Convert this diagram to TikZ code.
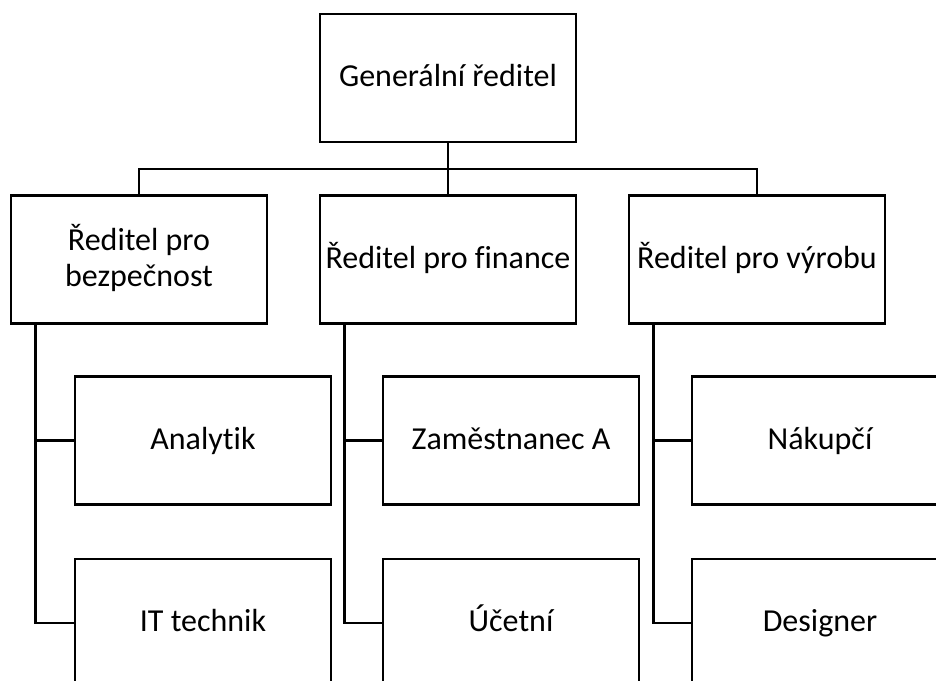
\documentclass[tikz,border=0pt]{standalone}
\usepackage{fontspec}
\setmainfont{Carlito}[Ligatures=NoCommon]
\begin{document}
\begin{tikzpicture}[x=0.75pt, y=-0.75pt,
  box/.style={draw=black, line width=2pt, fill=white, minimum width=192pt,
    minimum height=96pt, inner sep=2pt, align=center,
    text height=16pt, text depth=3.2pt,
    font=\fontsize{24}{27}\selectfont},
  twoline/.style={text height=44.4pt, text depth=3.2pt},
  link/.style={draw=black, line width=2pt}]
  \useasboundingbox (0,0) rectangle (936,681);
  \clip (0,0) rectangle (936,681);

  % top level
  \node[box] (gen) at (448,78) {Generální ředitel};

  % directors
  \node[box, twoline] (bez) at (139,259.5) {Ředitel pro\\bezpečnost};
  \node[box] (fin) at (448,259.5) {Ředitel pro finance};
  \node[box] (vyr) at (757,259.5) {Ředitel pro výrobu};

  % staff
  \node[box] (ana) at (203,440.5) {Analytik};
  \node[box] (itt) at (203,623) {IT technik};
  \node[box] (zam) at (511,440.5) {Zaměstnanec A};
  \node[box] (uce) at (511,623) {Účetní};
  \node[box] (nak) at (820,440.5) {Nákupčí};
  \node[box] (des) at (820,623) {Designer};

  % bus below the top box
  \coordinate (bus) at (448,169);
  \draw[link] (gen.south) -- (fin.north);
  \draw[link] (bus) -| (bez.north);
  \draw[link] (bus) -| (vyr.north);

  % side rails from each director to its staff
  \foreach \d/\a/\b in {bez/ana/itt, fin/zam/uce, vyr/nak/des}{
    \coordinate (\d-rail) at ([xshift=19.5pt]\d.south west);
    \draw[link] (\d-rail) |- (\b.west);
    \draw[link] (\d-rail |- \a.west) -- (\a.west);
  }
\end{tikzpicture}
\end{document}
